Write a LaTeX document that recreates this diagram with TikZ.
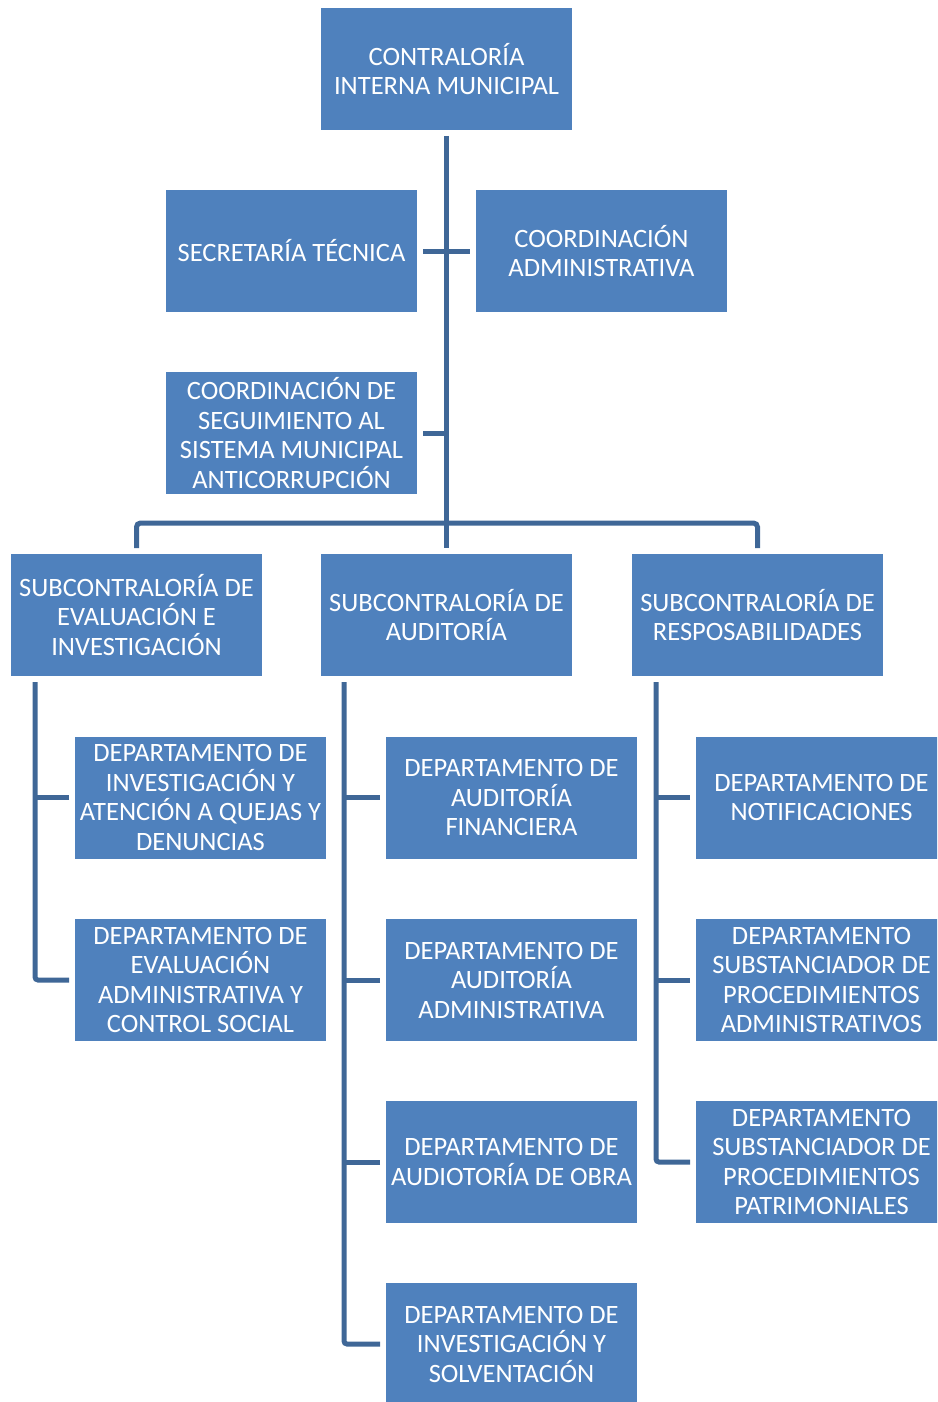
\documentclass[tikz,border=0pt]{standalone}
\usepackage{fontspec}
\setmainfont{Carlito}
\usetikzlibrary{positioning}
\definecolor{cajaazul}{HTML}{4F81BD}
\definecolor{lineaazul}{HTML}{3F6797}

\begin{document}
\begin{tikzpicture}[x=1pt,y=-1pt,
	caja/.style={fill=cajaazul, text=white, minimum width=251pt, minimum height=122pt,
		inner sep=0pt, outer sep=6pt, align=center, font=\fontsize{26.5}{29.5}\selectfont},
	linea/.style={draw=lineaazul, line width=5pt}]
	\useasboundingbox (0,0) rectangle (937,1402);
	\clip (0,0) rectangle (937,1402);

	% nivel superior
	\node[caja] (cim) at (446.5,69) {CONTRALORÍA\\INTERNA MUNICIPAL};
	\node[caja] (st) at (291.5,251) {SECRETARÍA TÉCNICA};
	\node[caja] (ca) at (601.5,251) {COORDINACIÓN\\ADMINISTRATIVA};
	\node[caja] (cs) at (291.5,433) {COORDINACIÓN DE\\SEGUIMIENTO AL\\SISTEMA MUNICIPAL\\ANTICORRUPCIÓN};

	% subcontralorias
	\node[caja] (sei) at (136.5,615) {SUBCONTRALORÍA DE\\EVALUACIÓN E\\INVESTIGACIÓN};
	\node[caja] (sa) at (446.5,615) {SUBCONTRALORÍA DE\\AUDITORÍA};
	\node[caja] (sr) at (757.5,615) {SUBCONTRALORÍA DE\\RESPOSABILIDADES};

	% departamentos
	\node[caja] (diq) at (200.5,797.5) {DEPARTAMENTO DE\\INVESTIGACIÓN Y\\ATENCIÓN A QUEJAS Y\\DENUNCIAS};
	\node[caja] (dea) at (200.5,980) {DEPARTAMENTO DE\\EVALUACIÓN\\ADMINISTRATIVA Y\\CONTROL SOCIAL};

	\node[caja] (daf) at (511.5,797.5) {DEPARTAMENTO DE\\AUDITORÍA\\FINANCIERA};
	\node[caja] (daa) at (511.5,980) {DEPARTAMENTO DE\\AUDITORÍA\\ADMINISTRATIVA};
	\node[caja] (dao) at (511.5,1162) {DEPARTAMENTO DE\\AUDIOTORÍA DE OBRA};
	\node[caja] (dis) at (511.5,1344) {DEPARTAMENTO DE\\INVESTIGACIÓN Y\\SOLVENTACIÓN};

	\node[caja] (dn) at (821.5,797.5) {DEPARTAMENTO DE\\NOTIFICACIONES};
	\node[caja] (dsa) at (821.5,980) {DEPARTAMENTO\\SUBSTANCIADOR DE\\PROCEDIMIENTOS\\ADMINISTRATIVOS};
	\node[caja] (dsp) at (821.5,1162) {DEPARTAMENTO\\SUBSTANCIADOR DE\\PROCEDIMIENTOS\\PATRIMONIALES};

	% lineas
	\coordinate (barra) at (446.5,523);
	\draw[linea] (cim.south) -- (sa.north);
	\draw[linea] (st.east) -- (ca.west);
	\draw[linea] (cs.east) -- (cs.east -| cim.south);
	\draw[linea, rounded corners=4pt] (sei.north) |- (barra) -| (sr.north);

	\coordinate (c1) at ([xshift=30pt]sei.south west);
	\coordinate (c2) at ([xshift=29pt]sa.south west);
	\coordinate (c3) at ([xshift=30pt]sr.south west);
	\draw[linea, rounded corners=3pt] (c1) |- (dea.west);
	\draw[linea, rounded corners=3pt] (c2) |- (dis.west);
	\draw[linea, rounded corners=3pt] (c3) |- (dsp.west);
	\draw[linea] (diq.west) -- (diq.west -| c1);
	\foreach \d in {daf, daa, dao}
	\draw[linea] (\d.west) -- (\d.west -| c2);
	\foreach \d in {dn, dsa}
	\draw[linea] (\d.west) -- (\d.west -| c3);
\end{tikzpicture}
\end{document}
